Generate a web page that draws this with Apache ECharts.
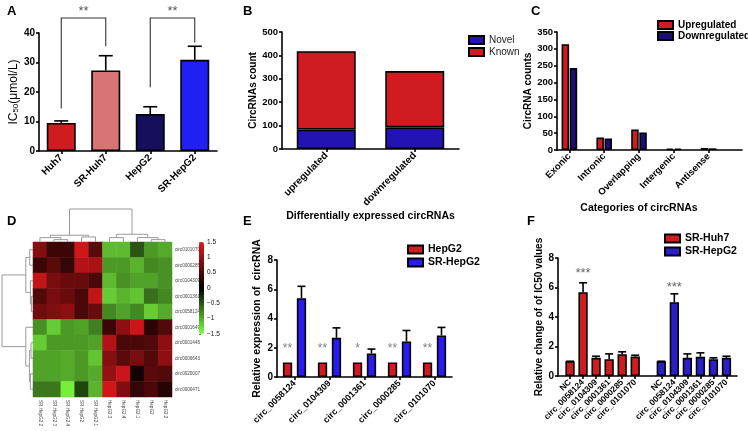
<!DOCTYPE html>
<html><head><meta charset="utf-8">
<script src="https://cdn.jsdelivr.net/npm/echarts@6/dist/echarts.min.js"></script>
<style>html,body{margin:0;padding:0;background:#fff}#c{width:748px;height:431px}</style>
</head><body><div id="c"></div>
<script>
// ---------- DATA ----------
const catA = ['Huh7', 'SR-Huh7', 'HepG2', 'SR-HepG2'];
const ic50Mean = [9.5, 27.3, 12.5, 30.9];
const ic50Err = [0.7, 5.0, 2.5, 4.6];
const sigA = [[0, 1, 45.1, 14.4, 35.5, '**'], [2, 3, 45.1, 21.6, 36.8, '**']];

const catB = ['upregulated', 'downregulated'];
const novelB = [83, 92];
const knownB = [335, 241];

const catC = ['Exonic', 'Intronic', 'Overlapping', 'Intergenic', 'Antisense'];
const upC = [314, 37, 61, 4, 6];
const downC = [243, 34, 52, 4, 5];

const colNames = ['SR.HepG2.2', 'SR.HepG2.3', 'SR.HepG2.4', 'SR.HepG2', 'SR.HepG2.1', 'HepG2.3', 'HepG2.4', 'HepG2.1', 'HepG2', 'HepG2.2'];
const rowNames = ['circ0101070', 'circ0000285', 'circ0104309', 'circ0001361', 'circ0058124', 'circ0001649', 'circ0001445', 'circ0006643', 'circ0020007', 'circ0000471'];
const heatVals = [
  [0.9, 0.4, 0.4, 1.4, 0.6, -1.1, -1.1, -0.5, -0.9, -1.0],
  [0.4, 0.6, 0.35, 1.2, 1.15, -0.9, -0.9, -1.05, -0.8, -0.85],
  [1.3, 0.8, 0.7, 0.7, 0.5, -1.1, -0.85, -0.95, -0.95, -0.85],
  [0.55, 0.8, 0.7, 0.5, 1.3, -1.2, -1.05, -1.15, -0.65, -0.8],
  [0.75, 0.85, 0.95, 0.5, 0.7, -0.8, -0.95, -0.8, -1.2, -1.0],
  [-0.85, -1.2, -0.9, -0.95, -0.75, 0.4, 0.95, 1.35, 0.3, 0.55],
  [-1.2, -0.9, -0.9, -0.9, -0.95, 1.2, 0.5, 0.5, 0.55, 0.95],
  [-0.95, -0.95, -1.0, -0.9, -1.15, 0.9, 0.6, 0.8, 0.55, 0.95],
  [-0.95, -0.95, -1.0, -0.9, -1.0, 1.0, 1.35, 0.15, 0.6, 0.55],
  [-0.7, -0.7, -1.4, -0.4, -1.05, 1.4, 0.85, 0.35, 0.5, 0.25]
];
// dendrograms: [left, right, height]; leaves are indices
const colTree = [[[0, [1, 2, 7], 13], [3, 4, 15], 20], [[5, 6, 13], [7, [8, 9, 7], 13], 23], 98];
const rowTree = [[[0, 1, 10], [2, [3, 4, 5], 8], 22], [5, [[6, 7, 6], [8, 9, 8], 11], 22], 95];
const colorTicks = [-1.5, 1.5, 0.5];

const catE = ['circ_0058124', 'circ_0104309', 'circ_0001361', 'circ_0000285', 'circ_0101070'];
const hepg2E = [1, 1, 1, 1, 1];
const srHepg2E = [5.39, 2.68, 1.61, 2.43, 2.84];
const srHepg2ErrE = [0.81, 0.68, 0.30, 0.75, 0.55];
const starsE = ['**', '**', '*', '**', '**'];
const starYE = 1.95;

const catF = ['NC', 'circ_0058124', 'circ_0104309', 'circ_0001361', 'circ_0000285', 'circ_0101070'];
const huhF = [1.0, 5.68, 1.23, 1.14, 1.48, 1.32];
const huhErrF = [0, 0.64, 0.11, 0.36, 0.16, 0.09];
const hepF = [1.0, 5.0, 1.23, 1.3, 1.14, 1.23];
const hepErrF = [0, 0.57, 0.27, 0.27, 0.09, 0.11];
const sigF = [[1, 6.98, '***'], [8, 6.0, '***']];

// ---------- STYLE ----------
const FONT = '"Liberation Sans", Arial, sans-serif';
const RED = '#d01c20';
const colorsA = [RED, '#d87474', '#160f5c', '#2020f2'];
const lineS = {color: '#000', width: 1.6};
function lbl(size, extra) { return Object.assign({color: '#000', fontFamily: FONT, fontWeight: 'bold', fontSize: size}, extra || {}); }
function nameS(size, w) { return {color: '#000', fontFamily: FONT, fontWeight: w || 'bold', fontSize: size}; }
const barBorder = {borderColor: '#000', borderWidth: 1.6};

function catX(grid, data, size, extra) {
  return Object.assign({
    gridIndex: grid, type: 'category', data: data,
    axisLine: {show: true, lineStyle: lineS},
    axisTick: {show: true, alignWithLabel: true, length: 3, lineStyle: lineS},
    axisLabel: lbl(size, {rotate: 45, interval: 0, margin: 5}),
    splitLine: {show: false}
  }, extra || {});
}
function valY(grid, min, max, interval, extra) {
  return Object.assign({
    gridIndex: grid, type: 'value', min: min, max: max, interval: interval,
    axisLine: {show: true, lineStyle: lineS},
    axisTick: {show: true, length: 3, lineStyle: lineS},
    axisLabel: lbl(9.5, {margin: 4}),
    splitLine: {show: false}, nameLocation: 'middle'
  }, extra || {});
}
function frameX(grid) {
  return {gridIndex: grid, type: 'value', min: 0, max: 1, axisLine: {show: true, lineStyle: lineS},
    axisTick: {show: false}, axisLabel: {show: false}, splitLine: {show: false}};
}
function hiddenV(grid, min, max, inverse) {
  return {gridIndex: grid, type: 'value', min: min, max: max, inverse: !!inverse, show: false, splitLine: {show: false}};
}

function errRender(offset, cap) {
  return function (params, api) {
    const b = api.coord([api.value(0), api.value(1)]);
    const t = api.coord([api.value(0), api.value(1) + api.value(2)]);
    const x = b[0] + offset;
    const st = {stroke: '#000', lineWidth: 1.6};
    return {type: 'group', children: [
      {type: 'line', shape: {x1: x, y1: b[1], x2: x, y2: t[1]}, style: st},
      {type: 'line', shape: {x1: x - cap / 2, y1: t[1], x2: x + cap / 2, y2: t[1]}, style: st}
    ]};
  };
}
function textEl(x, y, txt, size, color) {
  return {type: 'text', x: x, y: y, style: {text: txt, fill: color, font: size + 'px ' + FONT,
    textAlign: 'center', textVerticalAlign: 'middle', align: 'center', verticalAlign: 'middle'}};
}
function treeSegs(node, out) {
  if (typeof node === 'number') return {pos: node, h: 0};
  const a = treeSegs(node[0], out), b = treeSegs(node[1], out);
  out.push([a.pos, a.h, b.pos, b.h, node[2]]);
  return {pos: (a.pos + b.pos) / 2, h: node[2]};
}
const colSegs = []; treeSegs(colTree, colSegs);
const rowSegs = []; treeSegs(rowTree, rowSegs);
function dendroRender(horizontal) {
  return function (params, api) {
    const v = [0, 1, 2, 3, 4].map(i => api.value(i));
    const P = horizontal ? (pos, h) => api.coord([pos, h]) : (pos, h) => api.coord([h, pos]);
    return {type: 'polyline', shape: {points: [P(v[0], v[1]), P(v[0], v[4]), P(v[2], v[4]), P(v[2], v[3])]},
      style: {stroke: '#9a9a9a', lineWidth: 1, fill: null}};
  };
}

// ---------- GRIDS ----------
const grid = [
  {left: 39, top: 33, width: 178, height: 118},      // 0 A
  {left: 282, top: 32, width: 177, height: 117},     // 1 B
  {left: 557, top: 32, width: 185, height: 118},     // 2 C frame
  {left: 552, top: 32, width: 174, height: 118},     // 3 C bars
  {left: 33, top: 242, width: 139, height: 155},     // 4 D heatmap
  {left: 33, top: 209, width: 139, height: 33},      // 5 D col dendro
  {left: 2, top: 242, width: 31, height: 155},       // 6 D row dendro
  {left: 199, top: 242, width: 5, height: 92},       // 7 D colorbar axis
  {left: 277, top: 260, width: 175, height: 117},    // 8 E
  {left: 558, top: 258, width: 179, height: 118},    // 9 F frame
  {left: 563.5, top: 258, width: 169.5, height: 118} // 10 F bars
];

const catFAll = catF.concat([''], catF);

const xAxis = [
  catX(0, catA, 10),
  catX(1, catB, 10, {name: 'Differentially expressed circRNAs', nameLocation: 'middle', nameGap: 53, nameTextStyle: nameS(10.5)}),
  frameX(2),
  catX(3, catC, 9.5, {axisLine: {show: false}, name: 'Categories of circRNAs', nameLocation: 'middle', nameGap: 53, nameTextStyle: nameS(10.5)}),
  {gridIndex: 4, type: 'category', data: colNames, axisLine: {show: false}, axisTick: {show: false},
    axisLabel: {rotate: -90, interval: 0, fontSize: 4.6, color: '#444', fontFamily: FONT, margin: 3}},
  hiddenV(5, -0.5, 9.5),
  hiddenV(6, 0, 95, true),
  hiddenV(7, 0, 1),
  catX(8, catE, 9),
  frameX(9),
  catX(10, catFAll, 8.5, {axisLine: {show: false},
    axisTick: {show: true, alignWithLabel: true, length: 3, lineStyle: lineS, interval: (i, v) => v !== ''}})
];
const yAxis = [
  valY(0, 0, 40, 10, {axisLabel: lbl(10, {margin: 4}), name: '{a|IC}{s|50}{a|(μmol/L)}', nameGap: 16,
    nameTextStyle: {rich: {a: {fontFamily: FONT, fontSize: 12, color: '#000'}, s: {fontFamily: FONT, fontSize: 8, color: '#000', verticalAlign: 'bottom', lineHeight: 9}}}}),
  valY(1, 0, 500, 100, {name: 'CircRNAs count', nameGap: 22, nameTextStyle: nameS(10)}),
  valY(2, 0, 350, 50, {name: 'CircRNA counts', nameGap: 22, nameTextStyle: nameS(10)}),
  hiddenV(3, 0, 350),
  {gridIndex: 4, type: 'category', data: rowNames, inverse: true, position: 'right', axisLine: {show: false}, axisTick: {show: false},
    axisLabel: {interval: 0, fontSize: 4.6, color: '#444', fontFamily: FONT, margin: 3}},
  hiddenV(5, 0, 98),
  hiddenV(6, -0.5, 9.5, true),
  {gridIndex: 7, type: 'value', min: colorTicks[0], max: colorTicks[1], interval: colorTicks[2], position: 'right',
    axisLine: {show: false}, axisTick: {show: true, length: 2, lineStyle: {color: '#555', width: 0.8}}, splitLine: {show: false},
    axisLabel: {fontSize: 6.5, color: '#111', fontFamily: FONT, margin: 3, formatter: v => v < 0 ? '\u2212' + (-v) : String(v)}},
  valY(8, 0, 8, 2, {axisLabel: lbl(10, {margin: 4}), name: 'Relative expression of  circRNA', nameGap: 14, nameTextStyle: nameS(10.5)}),
  valY(9, 0, 8, 2, {axisLabel: lbl(10, {margin: 4}), name: 'Relative change of of IC50 values', nameGap: 11, nameTextStyle: nameS(10)}),
  hiddenV(10, 0, 8)
];

// ---------- SERIES ----------
const series = [];
// A
series.push({type: 'bar', xAxisIndex: 0, yAxisIndex: 0, barWidth: 29,
  data: ic50Mean.map((v, i) => ({value: v, itemStyle: Object.assign({color: colorsA[i]}, barBorder)}))});
series.push({type: 'custom', xAxisIndex: 0, yAxisIndex: 0, clip: false, renderItem: errRender(0, 14),
  data: ic50Mean.map((v, i) => [i, v, ic50Err[i]])});
series.push({type: 'custom', xAxisIndex: 0, yAxisIndex: 0, clip: false, encode: {x: 0, y: 2},
  data: sigA.map(s => s.slice(0, 5)),
  renderItem: function (params, api) {
    const s = sigA[params.dataIndex];
    const pL = api.coord([s[0], s[2]]), pR = api.coord([s[1], s[2]]);
    const bL = api.coord([s[0], s[3]]), bR = api.coord([s[1], s[4]]);
    return {type: 'group', children: [
      {type: 'polyline', shape: {points: [bL, pL, pR, bR]}, style: {stroke: '#333', lineWidth: 1.1, fill: null}},
      textEl((pL[0] + pR[0]) / 2, pL[1] - 7, s[5], 13, '#555')
    ]};
  }});
// B
series.push({type: 'bar', name: 'Novel', stack: 'b', xAxisIndex: 1, yAxisIndex: 1, barWidth: 59, data: novelB,
  itemStyle: Object.assign({color: '#2313b2'}, barBorder)});
series.push({type: 'bar', name: 'Known', stack: 'b', xAxisIndex: 1, yAxisIndex: 1, barWidth: 59, data: knownB,
  itemStyle: Object.assign({color: RED}, barBorder)});
// C
series.push({type: 'bar', name: 'Upregulated', xAxisIndex: 3, yAxisIndex: 3, barWidth: 7.5, barGap: '8%', data: upC,
  itemStyle: Object.assign({color: RED}, barBorder)});
series.push({type: 'bar', name: 'Downregulated', xAxisIndex: 3, yAxisIndex: 3, barWidth: 7.5, barGap: '8%', data: downC,
  itemStyle: Object.assign({color: '#1b0f76'}, barBorder)});
// D
const heatIndex = series.length;
const heatData = [];
heatVals.forEach((row, r) => row.forEach((v, c) => heatData.push([c, r, v])));
series.push({type: 'heatmap', xAxisIndex: 4, yAxisIndex: 4, data: heatData, itemStyle: {borderWidth: 0}, emphasis: {disabled: true}});
series.push({type: 'custom', xAxisIndex: 5, yAxisIndex: 5, clip: false, data: colSegs, renderItem: dendroRender(true)});
series.push({type: 'custom', xAxisIndex: 6, yAxisIndex: 6, clip: false, data: rowSegs, renderItem: dendroRender(false)});
// E
const bwE = 9.3;
series.push({type: 'bar', name: 'HepG2', xAxisIndex: 8, yAxisIndex: 8, barWidth: bwE, barGap: '50%', data: hepg2E,
  itemStyle: Object.assign({color: RED}, barBorder)});
series.push({type: 'bar', name: 'SR-HepG2', xAxisIndex: 8, yAxisIndex: 8, barWidth: bwE, barGap: '50%', data: srHepg2E,
  itemStyle: Object.assign({color: '#2a1bf0'}, barBorder)});
series.push({type: 'custom', xAxisIndex: 8, yAxisIndex: 8, clip: false, renderItem: errRender(bwE * 0.75, 8),
  data: srHepg2E.map((v, i) => [i, v, srHepg2ErrE[i]])});
series.push({type: 'custom', xAxisIndex: 8, yAxisIndex: 8, clip: false,
  data: starsE.map((s, i) => [i, starYE]),
  renderItem: function (params, api) {
    const p = api.coord([api.value(0), api.value(1)]);
    return textEl(p[0] - bwE * 0.75, p[1], starsE[params.dataIndex], 12, '#808080');
  }});
// F
series.push({type: 'bar', name: 'SR-Huh7', stack: 'f', xAxisIndex: 10, yAxisIndex: 10, barWidth: 9.3,
  data: huhF.concat(new Array(catF.length + 1).fill(null)), itemStyle: Object.assign({color: RED}, barBorder)});
series.push({type: 'bar', name: 'SR-HepG2\u200b', stack: 'f', xAxisIndex: 10, yAxisIndex: 10, barWidth: 9.3,
  data: new Array(catF.length + 1).fill(null).concat(hepF), itemStyle: Object.assign({color: '#2b20c8'}, barBorder)});
series.push({type: 'custom', xAxisIndex: 10, yAxisIndex: 10, clip: false, renderItem: errRender(0, 8),
  data: huhF.map((v, i) => [i, v, huhErrF[i]]).concat(hepF.map((v, i) => [i + catF.length + 1, v, hepErrF[i]]))});
series.push({type: 'custom', xAxisIndex: 10, yAxisIndex: 10, clip: false,
  data: sigF.map(s => [s[0], s[1]]),
  renderItem: function (params, api) {
    const p = api.coord([api.value(0), api.value(1)]);
    return textEl(p[0], p[1], sigF[params.dataIndex][2], 13, '#666');
  }});

// ---------- LEGENDS ----------
function legend(names, left, top, size, bold, gap) {
  return {data: names, left: left, top: top, orient: 'vertical', icon: 'rect', itemWidth: 15, itemHeight: 8,
    itemGap: gap, selectedMode: false, padding: 0,
    textStyle: {fontFamily: FONT, fontSize: size, fontWeight: bold ? 'bold' : 'normal', color: bold ? '#000' : '#222'}};
}
const legends = [
  legend(['Novel', 'Known'], 468, 35, 10, false, 2),
  legend(['Upregulated', 'Downregulated'], 657, 20, 10, true, 1),
  legend(['HepG2', 'SR-HepG2'], 407, 244, 10.5, true, 2),
  legend(['SR-Huh7', 'SR-HepG2\u200b'], 664, 233, 10.5, true, 2)
];

// ---------- LETTERS ----------
const letters = [['A', 7, 5], ['B', 243, 5], ['C', 531, 5], ['D', 7, 215], ['E', 243, 215], ['F', 527, 215]];

const option = {
  animation: false,
  backgroundColor: '#fff',
  grid: grid,
  xAxis: xAxis,
  yAxis: yAxis,
  legend: legends,
  visualMap: {type: 'continuous', min: -1.5, max: 1.5, seriesIndex: heatIndex, left: 199, top: 242,
    itemWidth: 5, itemHeight: 92, padding: 0, calculable: false, text: null, hoverLink: false,
    inRange: {color: ['#80ff40', '#000000', '#e0181c']}},
  graphic: letters.map(l => ({type: 'text', left: l[1], top: l[2],
    style: {text: l[0], font: 'bold 13px ' + FONT, fill: '#000'}})),
  series: series
};
const chart = echarts.init(document.getElementById('c'), null, {renderer: 'canvas'});
chart.setOption(option);
</script></body></html>
